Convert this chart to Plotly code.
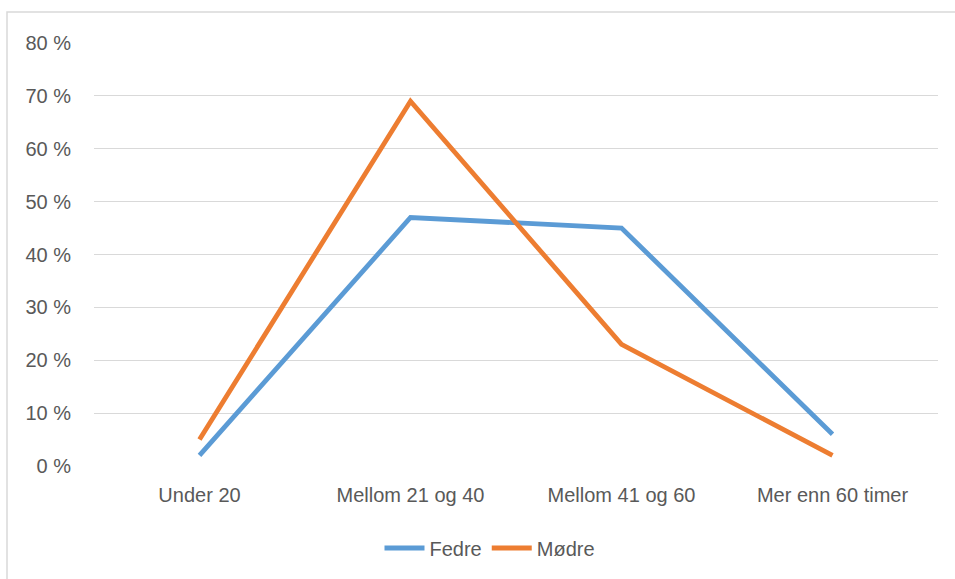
import plotly.graph_objects as go

# Weekly working hours brackets
categories = ["Under 20", "Mellom 21 og 40", "Mellom 41 og 60", "Mer enn 60 timer"]
fedre = [2, 47, 45, 6]
modre = [5, 69, 23, 2]
y_ticks = [0, 10, 20, 30, 40, 50, 60, 70, 80]
y_tick_text = [f"{v} %" for v in y_ticks]

W, H = 955, 579
L, R, T, B = 94, 17, 43, 113
pw, ph = W - L - R, H - T - B

text_color = "#595959"
font_family = "Liberation Sans, Arial, sans-serif"
fs = 20

fig = go.Figure()
fig.add_trace(go.Scatter(x=categories, y=fedre, name="Fedre", mode="lines",
                         line=dict(color="#5B9BD5", width=4.8)))
fig.add_trace(go.Scatter(x=categories, y=modre, name="Mødre", mode="lines",
                         line=dict(color="#ED7D31", width=4.8)))

# Light outer frame around the chart
fig.add_shape(type="rect", xref="paper", yref="paper",
              x0=(7 - L) / pw, x1=(W + 10 - L) / pw,
              y0=(T + ph - (H + 10)) / ph, y1=(T + ph - 12) / ph,
              line=dict(color="#D9D9D9", width=1.5), fillcolor="rgba(0,0,0,0)",
              layer="below")

fig.update_layout(
    width=W, height=H,
    margin=dict(l=L, r=R, t=T, b=B),
    paper_bgcolor="white", plot_bgcolor="white",
    font=dict(family=font_family, size=fs, color=text_color),
    showlegend=True,
    legend=dict(orientation="h", x=(490 - L) / pw, xanchor="center",
                y=(T + ph - 548) / ph, yanchor="middle",
                font=dict(size=fs, color=text_color), itemwidth=40,
                tracegroupgap=0),
    xaxis=dict(range=[-0.5, 3.5], showgrid=False, zeroline=False, showline=False,
               ticks="outside", ticklen=11, tickcolor="rgba(0,0,0,0)",
               tickfont=dict(size=fs, color=text_color)),
    yaxis=dict(range=[0, 80], tickmode="array", tickvals=y_ticks, ticktext=y_tick_text,
               showgrid=True, gridcolor="#D9D9D9", gridwidth=1.2,
               zeroline=False, showline=False,
               ticks="outside", ticklen=18, tickcolor="rgba(0,0,0,0)",
               tickfont=dict(size=fs, color=text_color)),
)

fig.write_html("out.html")
